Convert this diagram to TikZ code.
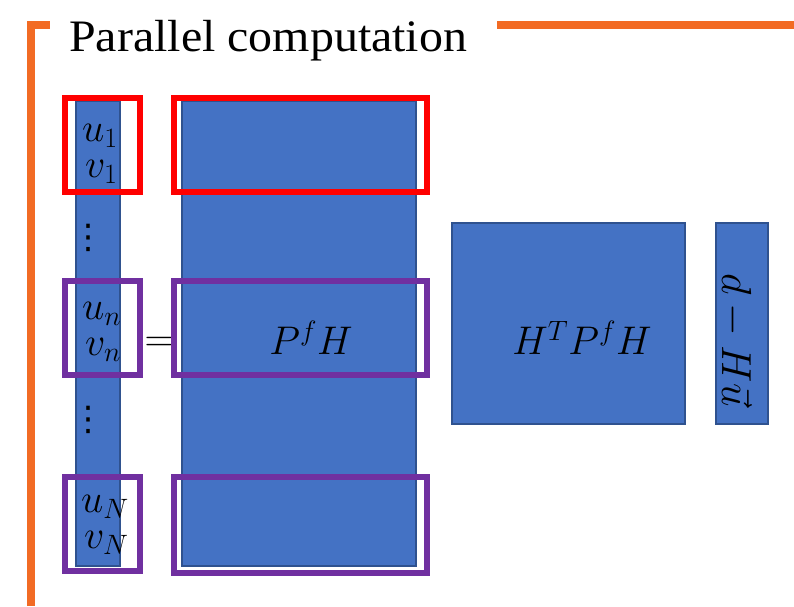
\RequirePackage{fix-cm}
\documentclass[tikz,border=0pt]{standalone}
\usepackage{amsmath}
\usepackage{fontspec}
\setmainfont{Liberation Serif}
\newfontfamily\dotsfont{DejaVu Sans}

\definecolor{mblue}{HTML}{4472C4}
\definecolor{mblueedge}{HTML}{2F528F}
\definecolor{mpurple}{HTML}{7030A0}
\definecolor{morange}{HTML}{F26B24}

% a pair of stacked components, second one nudged right
\newcommand{\comppair}[2]{%
  \begin{tabular}{@{}l@{}}$#1$\\\hspace{3pt}$#2$\end{tabular}}

\begin{document}
\begin{tikzpicture}[x=1pt,y=-1pt,
  bluebox/.style={fill=mblue, draw=mblueedge, line width=1.5pt, inner sep=0pt, anchor=north west},
  redframe/.style={draw=red, line width=5.5pt, inner sep=0pt, anchor=north west},
  purpleframe/.style={draw=mpurple, line width=5.5pt, inner sep=0pt, anchor=north west},
  orangeline/.style={draw=morange, line width=8pt},
  mlabel/.style={inner sep=0pt, font=\fontsize{40}{46}\selectfont},
  pairlabel/.style={inner sep=0pt, anchor=west, font=\fontsize{40}{36}\selectfont},
  bigdots/.style={inner sep=0pt, font=\fontsize{34}{40}\selectfont\dotsfont}]
\useasboundingbox (0,0) rectangle (794,606);

% orange heading rule
\coordinate (ob) at (31,606);
\coordinate (oc) at (50,25);
\coordinate (ol) at (497,25);
\coordinate (or) at (794,25);
\draw[orangeline] (ob) |- (oc);
\draw[orangeline] (ol) -- (or);

\node[anchor=base west, inner sep=0pt, font=\fontsize{45}{50}\selectfont] (title) at (69,51)
  {\scalebox{1.065}[1]{Parallel computation}};

% column vector of unknowns
\node[bluebox, minimum width=44pt, minimum height=465pt] (vec) at (75,100) {};
% P^f H block
\node[bluebox, minimum width=234pt, minimum height=465pt] (pfh) at (181,100) {};
% H^T P^f H block
\node[bluebox, minimum width=233pt, minimum height=201pt] (hph) at (451,222) {};
% innovation vector
\node[bluebox, minimum width=52pt, minimum height=201pt] (innov) at (715,222) {};

% labels inside the column vector
\node[pairlabel] (uv1) at (82,151.8) {\comppair{u_1}{v_1}};
\node[bigdots] (d1) at (88,238) {⋮};
\node[pairlabel] (uvn) at (82,329.8) {\comppair{u_n}{v_n}};
\node[bigdots] (d2) at (88,420) {⋮};
\node[pairlabel] (uvN) at (81,522.8) {\comppair{u_N}{v_N}};

\node[mlabel] (eq) at (159,344) {$=$};
\node[mlabel] (pfhlab) at (311,338) {$P^f H$};
\node[mlabel] (hphlab) at (582,338) {$H^T P^f H$};
\node[mlabel, font=\fontsize{42}{48}\selectfont, rotate=-90, anchor=base] (innovlab) at (722,340) {$d - H\vec{u}$};

% row highlights
\node[redframe, minimum width=75pt, minimum height=94pt] (r1a) at (62,95) {};
\node[redframe, minimum width=253pt, minimum height=94pt] (r1b) at (171,95) {};
\node[purpleframe, minimum width=75pt, minimum height=94pt] (rna) at (62,278) {};
\node[purpleframe, minimum width=253pt, minimum height=94pt] (rnb) at (171,278) {};
\node[purpleframe, minimum width=75pt, minimum height=94pt] (rNa) at (62,474) {};
\node[purpleframe, minimum width=253pt, minimum height=96pt] (rNb) at (171,474) {};
\end{tikzpicture}
\end{document}
